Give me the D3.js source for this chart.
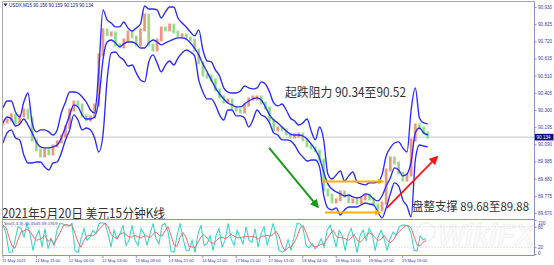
<!DOCTYPE html>
<html><head><meta charset="utf-8">
<script src="https://cdn.jsdelivr.net/npm/d3@7"></script>
<style>html,body{margin:0;padding:0;background:#fff;overflow:hidden}</style>
</head><body>
<svg id="c" width="554" height="265" xmlns="http://www.w3.org/2000/svg"></svg>
<script>
// ---------- data ----------
const closes = [
90.227,90.239,90.270,90.221,90.264,90.300,90.251,90.117,90.056,90.019,
90.056,90.031,90.080,90.105,90.141,90.196,90.300,90.349,90.331,90.264,
90.239,90.257,90.331,90.637,90.790,90.760,90.771,90.698,90.686,90.728,
90.777,90.747,90.698,90.790,90.881,90.698,90.667,90.728,90.802,90.790,
90.820,90.777,90.753,90.759,90.741,90.728,90.667,90.588,90.514,90.508,
90.484,90.423,90.380,90.349,90.361,90.312,90.300,90.288,90.331,90.368,
90.380,90.380,90.343,90.312,90.239,90.178,90.190,90.178,90.153,90.135,
90.147,90.153,90.117,90.080,90.068,90.050,89.994,89.811,89.780,89.738,
89.750,89.799,89.774,89.738,89.750,89.731,89.756,89.780,89.756,89.719,
89.689,89.731,89.933,90.007,89.976,89.915,89.872,89.903,90.117,90.208,
90.190,90.160,90.134];
const upperBand = [
90.312,90.355,90.355,90.288,90.257,90.349,90.404,90.221,90.166,90.178,
90.178,90.166,90.147,90.178,90.282,90.349,90.410,90.410,90.404,90.380,
90.349,90.300,90.282,90.545,90.912,90.851,90.832,90.808,90.808,90.838,
90.802,90.783,90.802,90.826,90.936,90.918,90.918,90.912,90.863,90.900,
90.930,90.930,90.863,90.832,90.808,90.777,90.753,90.790,90.667,90.600,
90.594,90.545,90.508,90.435,90.410,90.404,90.404,90.416,90.447,90.435,
90.429,90.435,90.472,90.459,90.410,90.343,90.325,90.337,90.300,90.251,
90.233,90.208,90.221,90.245,90.172,90.117,90.196,90.117,89.909,89.878,
89.903,89.927,89.866,89.897,89.921,89.860,89.848,89.842,89.854,89.854,
89.860,89.903,90.019,90.068,90.098,90.105,90.068,90.043,90.300,90.435,
90.251,90.221,90.215];
const middleBand = [
90.221,90.257,90.245,90.202,90.215,90.245,90.208,90.160,90.105,90.074,
90.068,90.068,90.074,90.086,90.129,90.196,90.270,90.331,90.319,90.270,
90.245,90.245,90.257,90.361,90.606,90.716,90.728,90.710,90.686,90.704,
90.716,90.716,90.704,90.679,90.679,90.710,90.728,90.716,90.698,90.710,
90.722,90.734,90.741,90.741,90.734,90.710,90.679,90.637,90.582,90.533,
90.484,90.435,90.398,90.368,90.343,90.331,90.319,90.319,90.337,90.355,
90.368,90.374,90.361,90.319,90.270,90.239,90.221,90.196,90.172,90.153,
90.147,90.147,90.141,90.123,90.092,90.056,90.007,89.921,89.848,89.817,
89.799,89.787,89.774,89.780,89.768,89.762,89.768,89.787,89.780,89.756,
89.744,89.774,89.835,89.884,89.946,89.933,89.897,89.909,89.982,90.160,
90.190,90.160,90.147];
const lowerBand = [
90.098,90.160,90.178,90.129,90.117,90.025,89.976,89.976,89.982,89.982,
89.952,89.933,89.976,89.982,90.037,90.117,90.178,90.270,90.239,90.178,
90.190,90.178,90.129,90.043,90.147,90.484,90.649,90.655,90.624,90.606,
90.569,90.575,90.527,90.484,90.472,90.594,90.637,90.588,90.533,90.575,
90.600,90.575,90.618,90.649,90.667,90.655,90.631,90.484,90.410,90.368,
90.368,90.331,90.270,90.239,90.300,90.300,90.264,90.264,90.251,90.196,
90.239,90.300,90.270,90.257,90.221,90.160,90.147,90.117,90.117,90.111,
90.086,90.043,90.013,89.988,89.994,89.994,89.952,89.780,89.701,89.689,
89.701,89.658,89.689,89.707,89.707,89.707,89.719,89.731,89.725,89.719,
89.677,89.640,89.701,89.787,89.854,89.835,89.750,89.713,89.646,89.994,
90.086,90.080,90.074];
const stochMain = [
85,60,5,5,40,80,75,50,90,60,10,50,70,20,75,15,45,25,70,90,
88,83,82,90,10,4,45,75,40,50,70,60,90,92,90,60,20,70,45,60,
85,25,40,85,40,25,75,60,25,60,90,45,30,85,90,65,8,5,55,90,
45,12,10,40,4,60,85,25,30,53,10,55,75,20,40,90,45,25,70,50,
30,80,40,35,75,20,60,80,25,55,90,55,10,6,10,42,10,50,90,88,
75,25,18,31,15,25,45,20,70,85,55,20,70,55,10,55,75,45,4,55,
70,40,75,60,10,50,70,45,10,45,65,55,80,85,85,82,60,10,10,53,
42,45.45];
const stochSignal = [
85,78,50,23,17,42,65,68,72,67,53,40,43,47,55,37,45,28,47,62,
83,87,84,85,61,35,20,41,53,55,53,60,73,81,91,81,57,50,45,58,
63,57,50,50,55,50,47,53,53,48,58,65,55,53,68,80,54,26,23,50,
63,49,22,21,18,35,50,57,47,36,31,39,47,50,45,50,58,53,47,48,
50,53,50,52,50,43,52,53,55,53,57,67,52,24,9,19,21,34,50,76,
84,63,39,25,21,24,28,30,45,58,70,53,48,48,45,40,47,58,41,35,
43,55,62,58,48,40,43,55,42,33,40,55,67,73,83,84,76,51,27,24,
35,39.19];
const timeLabels = ["11 May 2021","11 May 15:00","12 May 06:00","12 May 18:00","13 May 09:00",
  "13 May 21:00","14 May 12:00","17 May 01:00","17 May 13:00","18 May 04:00","18 May 16:00",
  "19 May 07:00","19 May 19:00"];
const timeLabelBars = [0,8,16,24,32,40,48,56,64,72,80,88,96];
const priceTicks = [90.930,90.825,90.720,90.615,90.510,90.405,90.300,90.195,90.090,89.985,89.880,89.775,89.670];
const stochTicks = [100,80,20,0];
const stochLevels = [80,20];
const lastPrice = 90.134;
const headerText = "USDX,M15 90.156 90.159 90.129 90.134";
const stochText = "Sto(5,3,3) 45.4545 39.1919";
// arrows: [barFrom, priceFrom, barTo, priceTo]
const downArrow = [63.9, 90.068, 75.6, 89.707];
const upArrow = [92.2, 89.701, 104.2, 90.013];
const rangeLines = [[76.6, 89.863, 91.2, 89.863],[77.3, 89.673, 90.5, 89.673]];
const resistanceText = "起跌阻力 90.34至90.52";
const supportText = "盘整支撑 89.68至89.88";
const titleText = "2021年5月20日 美元15分钟K线";

// ---------- layout ----------
const svg = d3.select('#c');
const L = 2.5, R = 534.5, T = 1.5, MB = 219.5, SB = 255.5;
const x = d3.scaleLinear().domain([0, 127.5]).range([3, 534]);
const y = d3.scaleLinear().domain([89.670, 90.930]).range([213, 7]);
const xs = d3.scaleLinear().domain([0, stochMain.length - 1]).range([x(0), x(101.6)]);
const ys = d3.scaleLinear().domain([0, 100]).range([254, 220]);

svg.append('rect').attr('width',554).attr('height',265).attr('fill','#fff');
const defs = svg.append('defs');
defs.append('clipPath').attr('id','cm').append('rect').attr('x',L).attr('y',T).attr('width',R-L).attr('height',MB-T);
defs.append('clipPath').attr('id','cs').append('rect').attr('x',L).attr('y',MB+1).attr('width',R-L).attr('height',SB-MB-1);
function marker(id, color, size){
  defs.append('marker').attr('id',id).attr('viewBox','0 0 10 10').attr('refX',8).attr('refY',5)
    .attr('markerWidth',size).attr('markerHeight',size).attr('orient','auto').attr('markerUnits','userSpaceOnUse')
    .append('path').attr('d','M0,0 L10,5 L0,10 z').attr('fill',color);
}
marker('mg','#1a9a1a',9); marker('mr','#ff1414',9); marker('mo','#ffb000',6);

// watermark
const wm = svg.append('g').attr('opacity',0.45);
wm.append('circle').attr('cx',426).attr('cy',232).attr('r',9).attr('fill','none').attr('stroke','#e4e4e4').attr('stroke-width',2);
wm.append('text').attr('x',438).attr('y',245).attr('font-family','Liberation Sans, Arial, sans-serif')
  .attr('font-size',29).attr('font-weight','bold').attr('font-style','italic').attr('fill','#f4f4f4')
  .attr('stroke','#e2e2e2').attr('stroke-width',0.8).text('WikiFX');

// price line
svg.append('line').attr('x1',L).attr('x2',R).attr('y1',y(lastPrice)).attr('y2',y(lastPrice))
  .attr('stroke','#c4c4cc').attr('stroke-width',1);

// candles
const main = svg.append('g').attr('clip-path','url(#cm)');
const opens = closes.map((c,i)=> i ? closes[i-1] : c);
main.selectAll('rect.cd').data(closes).join('rect').attr('class','cd')
  .attr('x',(d,i)=>x(i)-1.4).attr('width',2.8)
  .attr('y',(d,i)=>y(Math.max(d,opens[i])) - 1.5)
  .attr('height',(d,i)=>Math.max(2, Math.abs(y(d)-y(opens[i]))) + 3)
  .attr('fill',(d,i)=> d>=opens[i] ? '#f58a80' : '#86e486')
  .attr('opacity',0.9);
main.selectAll('rect.ck').data(closes).join('rect').attr('class','ck')
  .attr('x',(d,i)=>x(i)-0.5).attr('width',1)
  .attr('y',(d,i)=>y(Math.max(d,opens[i])))
  .attr('height',(d,i)=>Math.max(1, Math.abs(y(d)-y(opens[i]))))
  .attr('fill','#c8a868').attr('opacity',0.6);

// bands
const line = d3.line().x((d,i)=>x(i)).y(d=>y(d)).curve(d3.curveMonotoneX);
[upperBand, middleBand, lowerBand].forEach(b=>{
  main.append('path').attr('d',line(b)).attr('fill','none').attr('stroke','#2a2aff').attr('stroke-width',1.35);
});

// annotations
function arrow(a, color, w, mk){
  svg.append('line').attr('x1',x(a[0])).attr('y1',y(a[1])).attr('x2',x(a[2])).attr('y2',y(a[3]))
    .attr('stroke',color).attr('stroke-width',w).attr('marker-end',`url(#${mk})`);
}
arrow(downArrow,'#1a9a1a',2,'mg');
arrow(upArrow,'#ff1414',1.8,'mr');
rangeLines.forEach(r=>arrow(r,'#ffb000',2,'mo'));

const cjk = '"Noto Sans CJK SC", "Noto Sans", sans-serif';
svg.append('text').attr('x',285).attr('y',y(90.38)).attr('font-family',cjk).attr('font-size',12.5)
  .attr('fill','#333').attr('textLength',121).attr('lengthAdjust','spacingAndGlyphs').text(resistanceText);
svg.append('text').attr('x',412).attr('y',y(89.683)).attr('font-family',cjk).attr('font-size',12)
  .attr('fill','#333').attr('textLength',117).attr('lengthAdjust','spacingAndGlyphs').text(supportText);
svg.append('text').attr('x',2).attr('y',217.5).attr('font-family',cjk).attr('font-size',13)
  .attr('fill','#333').attr('textLength',163).attr('lengthAdjust','spacingAndGlyphs').text(titleText);

// stochastic
const st = svg.append('g').attr('clip-path','url(#cs)');
stochLevels.forEach(v=>{
  st.append('line').attr('x1',L).attr('x2',R).attr('y1',ys(v)).attr('y2',ys(v))
    .attr('stroke','#b4b4b4').attr('stroke-width',0.8).attr('stroke-dasharray','1,2');
});
const sline = d3.line().x((d,i)=>xs(i)).y(d=>ys(d));
st.append('path').attr('d',sline(stochMain)).attr('fill','none').attr('stroke','#3fd6c6').attr('stroke-width',1.1);
st.append('path').attr('d',sline(stochSignal)).attr('fill','none').attr('stroke','#ee6a6a').attr('stroke-width',1);

// frame
const fr = svg.append('g').attr('fill','none');
fr.append('line').attr('x1',L).attr('x2',R).attr('y1',T).attr('y2',T).attr('stroke','#a8a8b0');
fr.append('line').attr('x1',L).attr('x2',L).attr('y1',T).attr('y2',SB).attr('stroke','#a8a8b0');
fr.append('line').attr('x1',L).attr('x2',R).attr('y1',MB).attr('y2',MB).attr('stroke','#8c8cd6');
fr.append('line').attr('x1',L).attr('x2',R).attr('y1',SB).attr('y2',SB).attr('stroke','#8c8cd6');
fr.append('line').attr('x1',R).attr('x2',R).attr('y1',T).attr('y2',SB).attr('stroke','#8c8cd6');

// right price axis
const axisColor = '#3c3ca6';
const ax = svg.append('g').attr('transform',`translate(${R},0)`)
  .call(d3.axisRight(y).tickValues(priceTicks).tickSize(2).tickPadding(1.5).tickFormat(d3.format('.3f')));
ax.select('.domain').remove();
ax.selectAll('line').attr('stroke','#8c8cd6');
ax.selectAll('text').attr('font-family','Liberation Sans, Arial, sans-serif').attr('font-size',4.6).attr('fill',axisColor);

// last price label
svg.append('rect').attr('x',R+0.5).attr('y',y(lastPrice)-3.3).attr('width',18.5).attr('height',6.6).attr('fill','#0a0a80');
svg.append('text').attr('x',R+2).attr('y',y(lastPrice)+1.6).attr('font-family','Liberation Sans, Arial, sans-serif')
  .attr('font-size',4.6).attr('fill','#fff').text(d3.format('.3f')(lastPrice));

// stoch axis
const sax = svg.append('g').attr('transform',`translate(${R},0)`)
  .call(d3.axisRight(ys).tickValues(stochTicks).tickSize(2).tickPadding(1.5));
sax.select('.domain').remove();
sax.selectAll('line').attr('stroke','#8c8cd6');
sax.selectAll('text').attr('font-family','Liberation Sans, Arial, sans-serif').attr('font-size',4.6).attr('fill',axisColor)
  .attr('dy',d=> d===100 ? '0.9em' : d===0 ? '0.1em' : '0.32em');

// time axis
const tx = svg.append('g');
timeLabelBars.forEach((b,k)=>{
  tx.append('line').attr('x1',x(b)).attr('x2',x(b)).attr('y1',SB).attr('y2',SB+2.5).attr('stroke','#8c8cd6');
  tx.append('text').attr('x',x(b)-1).attr('y',262).attr('font-family','Liberation Sans, Arial, sans-serif')
    .attr('font-size',4.2).attr('fill',axisColor).text(timeLabels[k]);
});

// headers
svg.append('path').attr('d','M3.5,3.5 L7.5,3.5 L5.5,6.3 Z').attr('fill','#1a1a70');
svg.append('text').attr('x',9).attr('y',7.3).attr('font-family','Liberation Sans, Arial, sans-serif')
  .attr('font-size',4.6).attr('fill','#1a1a70').text(headerText);
svg.append('text').attr('x',4).attr('y',225.3).attr('font-family','Liberation Sans, Arial, sans-serif')
  .attr('font-size',4.4).attr('fill',axisColor).text(stochText);
</script>
</body></html>
